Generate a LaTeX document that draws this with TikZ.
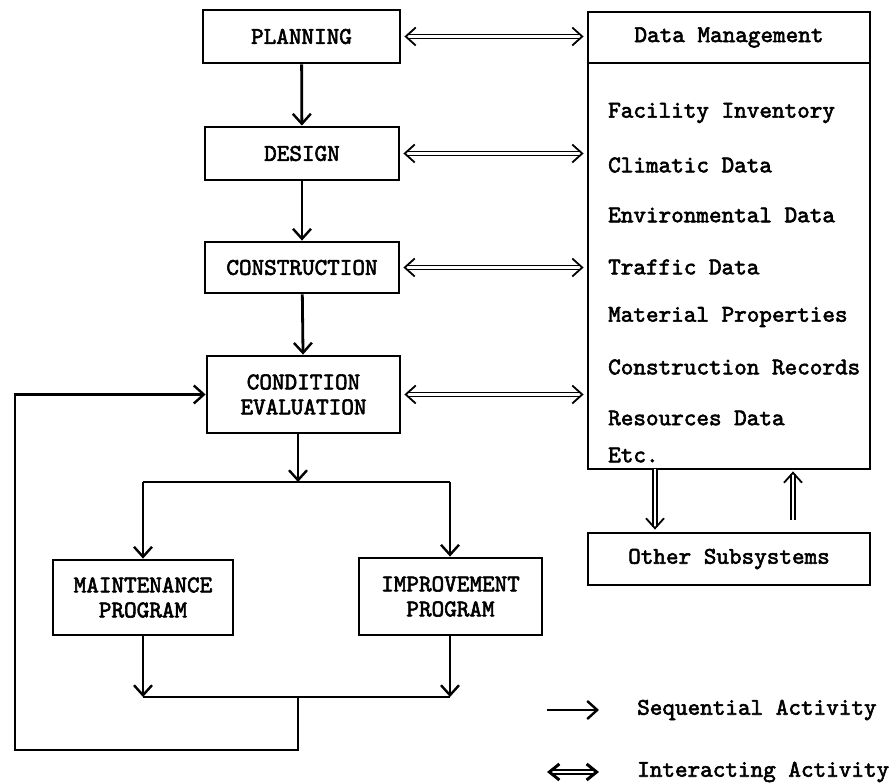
\documentclass[tikz,border=0pt]{standalone}
\usepackage{fontspec}
\usetikzlibrary{arrows.meta}
\newfontfamily\tw[FakeBold=2.4]{lmmono10-regular.otf}
\tikzset{
  every node/.style={inner sep=0pt},
  lbl/.style={font=\tw\fontsize{24}{25}\selectfont, align=center},
  box/.style={lbl, draw, line width=2.8pt},
  item/.style={lbl, anchor=west},
  seq/.style={line width=2.8pt, -{Straight Barb[length=10pt,width=18pt,line width=2.4pt]}},
  inter/.style={double, double distance=2.6pt, line width=1.4pt,
    {Straight Barb[length=10pt,width=18pt,line width=1.8pt]}-{Straight Barb[length=10pt,width=18pt,line width=1.8pt]}},
  oneway/.style={double, double distance=2.6pt, line width=1.4pt,
    -{Straight Barb[length=10pt,width=18pt,line width=1.8pt]}},
}
\begin{document}
\begin{tikzpicture}[x=1pt,y=-1pt]
\useasboundingbox (0,0) rectangle (892,783);

% activity chain
\node[box, minimum width=197, minimum height=53] (plan) at (301.5,36.5) {PLANNING};
\node[box, minimum width=194, minimum height=53] (design) at (302,153.5) {DESIGN};
\node[box, minimum width=194, minimum height=51] (constr) at (302,267.5) {CONSTRUCTION};
\node[box, minimum width=193, minimum height=77] (ce) at (303.5,394.5) {CONDITION\\EVALUATION};
\node[box, minimum width=180, minimum height=75] (maint) at (143,597.5) {MAINTENANCE\\PROGRAM};
\node[box, minimum width=183, minimum height=77] (impr) at (450.5,596.5) {IMPROVEMENT\\PROGRAM};

% data management
\node[box, minimum width=282, minimum height=51] (dmhead) at (729,37.5) {Data Management};
\node[draw, line width=2.8pt, minimum width=282, minimum height=406] (dmbody) at (729,266) {};
\node[item] (i1) at (608,113) {Facility Inventory};
\node[item] (i2) at (608,165) {Climatic Data};
\node[item] (i3) at (608,215) {Environmental Data};
\node[item] (i4) at (608,267) {Traffic Data};
\node[item] (i5) at (608,317) {Material Properties};
\node[item] (i6) at (608,367) {Construction Records};
\node[item] (i7) at (608,418) {Resources Data};
\node[item] (i8) at (608,455) {Etc.};
\node[box, minimum width=282, minimum height=52] (other) at (729,559) {Other Subsystems};

% sequential flow
\draw[seq] (plan) -- (design);
\draw[seq] (design) -- (constr);
\draw[seq] (constr) -- (ce);
\coordinate (split) at (298,482);
\coordinate (splitL) at (143,482);
\coordinate (splitR) at (450,482);
\draw[seq] (ce.south -| split) -- (split);
\draw[line width=2.8pt] (splitL) -- (splitR);
\draw[seq] (splitL) -- (splitL |- maint.north);
\draw[seq] (splitR) -- (splitR |- impr.north);
\coordinate (joinL) at (143,697);
\coordinate (joinR) at (450,697);
\coordinate (joinM) at (298,697);
\coordinate (loopB) at (298,750);
\coordinate (loopL) at (15,750);
\draw[seq] (maint.south -| joinL) -- (joinL);
\draw[seq] (impr.south -| joinR) -- (joinR);
\draw[line width=2.8pt] (joinL) -- (joinR);
\draw[seq] (joinM) -- (loopB) -- (loopL) -- (loopL |- ce.west) -- (ce.west);

% interactions with data management
\draw[inter, shorten <=3pt, shorten >=3pt] (plan.east) -- (plan.east -| dmbody.west);
\draw[inter, shorten <=3pt, shorten >=3pt] (design.east) -- (design.east -| dmbody.west);
\draw[inter, shorten <=3pt, shorten >=3pt] (constr.east) -- (constr.east -| dmbody.west);
\draw[inter, shorten <=3pt, shorten >=3pt] (ce.east) -- (ce.east -| dmbody.west);
\coordinate (dn) at (655,469);
\coordinate (up) at (793,520);
\draw[oneway, shorten >=2pt] (dn) -- (dn |- other.north);
\draw[oneway, shorten >=1pt] (up) -- (up |- dmbody.south);

% legend
\coordinate (s1) at (547,710);
\coordinate (s2) at (599,710);
\coordinate (t1) at (547,772);
\coordinate (t2) at (599,772);
\draw[seq] (s1) -- (s2);
\draw[double, double distance=1.4pt, line width=2pt,
  {Straight Barb[length=10pt,width=16pt,line width=3pt]}-{Straight Barb[length=10pt,width=16pt,line width=3pt]}] (t1) -- (t2);
\node[item] (seqlbl) at (637,710) {Sequential Activity};
\node[item] (intlbl) at (637,772) {Interacting Activity};
\end{tikzpicture}
\end{document}
